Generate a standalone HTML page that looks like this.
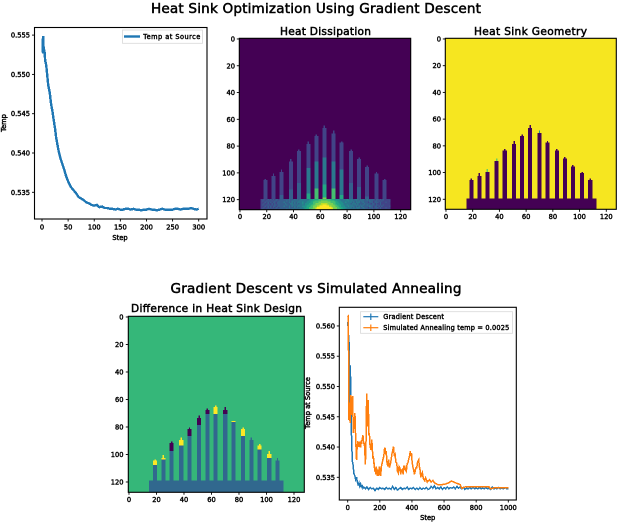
<!DOCTYPE html>
<html lang="en">
<head>
<meta charset="utf-8">
<title>Heat Sink Optimization Using Gradient Descent</title>
<style>
html,body{margin:0;padding:0;background:#fff;width:618px;height:522px;overflow:hidden}
svg{display:block;font-family:"DejaVu Sans","Liberation Sans",sans-serif}
text{fill:#000;stroke:#000;stroke-width:.42px}
.tick{font-size:6.7px}
.axl{font-size:6.7px}
.leg{font-size:6.6px}
.sub{font-size:10.6px;stroke-width:.5px}
.sup{font-size:13.6px;stroke-width:.5px}
.cells rect{shape-rendering:crispEdges}
</style>
</head>
<body>
<svg id="fig" xmlns="http://www.w3.org/2000/svg" width="618" height="522" viewBox="0 0 618 522">
  <rect width="618" height="522" fill="#fff"/>
  <text class="sup" x="316" y="13" text-anchor="middle" textLength="330">Heat Sink Optimization Using Gradient Descent</text>
  <text class="sup" x="316" y="293" text-anchor="middle" textLength="291">Gradient Descent vs Simulated Annealing</text>
  <text class="sub" x="325.5" y="35" text-anchor="middle" textLength="91">Heat Dissipation</text>
  <text class="sub" x="530.5" y="35" text-anchor="middle" textLength="113">Heat Sink Geometry</text>
  <text class="sub" x="216.5" y="312" text-anchor="middle" textLength="171">Difference in Heat Sink Design</text>
  <text class="axl" transform="translate(6,123) rotate(-90)" text-anchor="middle">Temp</text>
  <text class="axl" x="120" y="240" text-anchor="middle">Step</text>
  <text class="axl" transform="translate(310,403) rotate(-90)" text-anchor="middle">Temp at Source</text>
  <text class="axl" x="427.7" y="520" text-anchor="middle">Step</text>
  <g id="layers"></g>
</svg>
<script>
/* ---------- Temperature chart data (top left) ---------- */
const tempSteps = [0,1,2,3,4,5,6,8,10,12,15,17,20,22,25,27,30,32,35,37,40,42,45,47,50,55,60,65,70,75,80,85,90,95,100,105,110,115,120,125,130,135,140,145,150,155,160,165,170,175,180,185,190,195,200,205,210,215,220,225,230,235,240,245,250,255,260,265,270,275,280,285,290,295,300];
const tempValues = [.5528,.5528,.5549,.5535,.5531,.5528,.5518,.5512,.5499,.5486,.5476,.5464,.5453,.5444,.5431,.5420,.5409,.5402,.5394,.5390,.5384,.5380,.5373,.5369,.5364,.5357,.5353,.5349,.5344,.5342,.5340,.5337,.5336,.5334,.5333,.5334,.5331,.5332,.5330,.5330,.5329,.5329,.5328,.5329,.5328,.5328,.5329,.5329,.5328,.5329,.5328,.5328,.5327,.5328,.5328,.5329,.5328,.5328,.5327,.5328,.5329,.5328,.5328,.5328,.5328,.5329,.5329,.5328,.5329,.5329,.5329,.5330,.5329,.5328,.5329];
const tempYTicks = [0.535,0.540,0.545,0.550,0.555];
const tempXTicks = [0,50,100,150,200,250,300];

/* ---------- Comparison chart data (bottom right) ---------- */
const gdSteps = [0,2,4,7,9,10,12,14,17,19,22,25,30,34,38,45,50,55,60,65,70,75,80,85,90,95,100,110,120,130,140,150,160,170,180,190,200,210,220,230,240,250,260,270,280,290,300,310,320,330,340,350,360,370,380,390,400,410,420,430,440,450,460,470,480,490,500,510,520,530,540,550,560,570,580,590,600,610,620,630,640,650,660,670,680,690,700,710,720,730,740,750,760,770,780,790,800,810,820,830,840,850,860,870,880,890,900,910,920,930,940,950,960,970,980,990,1000];
const gdValues = [.5600,.5607,.5590,.5575,.5572,.5467,.5500,.5532,.5533,.5467,.5440,.5403,.5375,.5370,.5357,.5352,.5346,.5350,.5342,.5338,.5341,.5335,.5339,.5334,.5336,.5332,.5334,.5331,.5334,.5330,.5333,.5331,.5332,.5328,.5332,.5330,.5333,.5331,.5332,.5330,.5333,.5331,.5332,.5330,.5335,.5330,.5333,.5329,.5331,.5333,.5330,.5332,.5331,.5334,.5330,.5332,.5331,.5333,.5330,.5332,.5330,.5333,.5330,.5332,.5331,.5333,.5330,.5331,.5335,.5332,.5336,.5331,.5333,.5331,.5334,.5330,.5333,.5331,.5334,.5331,.5333,.5332,.5334,.5331,.5335,.5332,.5334,.5331,.5333,.5330,.5332,.5331,.5333,.5331,.5333,.5331,.5332,.5331,.5333,.5331,.5332,.5331,.5333,.5331,.5332,.5330,.5334,.5331,.5332,.5331,.5333,.5331,.5332,.5331,.5333,.5331,.5331];
const saSteps = [0,3,6,8,10,12,15,18,20,22,25,28,30,33,35,38,40,43,45,48,50,53,55,58,60,63,65,70,75,80,85,90,95,98,100,105,108,110,113,115,118,120,122,125,127,130,132,135,138,140,145,150,153,155,158,160,163,165,168,170,175,178,180,185,190,193,197,200,205,210,215,220,225,228,232,236,240,243,245,250,255,260,265,270,275,280,285,290,295,300,305,310,315,320,325,330,335,340,345,350,355,360,365,370,375,380,385,390,393,397,400,405,410,415,420,425,430,435,442,446,450,455,460,465,470,475,480,485,490,495,500,510,520,530,540,560,590,610,630,645,670,700,710,730,800,880,890,920,1000];
const saValues = [.5615,.5616,.5533,.5445,.5470,.5453,.5440,.5480,.5486,.5460,.5453,.5480,.5484,.5450,.5423,.5440,.5431,.5450,.5456,.5430,.5407,.5395,.5379,.5405,.5396,.5410,.5407,.5400,.5409,.5399,.5410,.5412,.5420,.5405,.5409,.5401,.5385,.5371,.5400,.5418,.5488,.5460,.5434,.5440,.5478,.5450,.5420,.5423,.5405,.5401,.5395,.5412,.5400,.5390,.5380,.5385,.5372,.5374,.5360,.5366,.5355,.5368,.5363,.5352,.5363,.5352,.5368,.5363,.5352,.5368,.5374,.5380,.5385,.5395,.5399,.5388,.5393,.5380,.5374,.5368,.5379,.5366,.5371,.5378,.5388,.5394,.5401,.5385,.5388,.5375,.5374,.5360,.5357,.5368,.5366,.5355,.5362,.5363,.5355,.5368,.5368,.5362,.5360,.5372,.5374,.5380,.5385,.5393,.5385,.5390,.5379,.5368,.5363,.5355,.5360,.5366,.5366,.5375,.5379,.5368,.5363,.5350,.5355,.5358,.5349,.5346,.5344,.5349,.5346,.5342,.5344,.5346,.5342,.5345,.5341,.5338,.5338,.5339,.5341,.5344,.5341,.5338,.5332,.5334,.5334,.5334,.5331,.5333,.5333];
const cmpYTicks = [0.535,0.540,0.545,0.550,0.555,0.560];
const cmpXTicks = [0,200,400,600,800,1000];

/* ---------- Heat sink image data (128 x 128 grid) ---------- */
const imgTicks = [0,20,40,60,80,100,120];
const finColumns = [19,25,31,38,44,51,57,63,70,76,83,89,95,102,108];
const finTopRows = [106,103,100,92,84,79,73,67,71,78,84,90,96,101,106];
const finTipRows = [105,101,98,90,83,77,72,65,69,77,83,89,95,100,105];
const geomTipColors = ['p','p','g','g','p','p','p','p','t','p','p','p','p','p','p'];
const baseStartCol = 16;
const baseEndCol = 112;
const baseTopRow = 120;

/* viridis colour for each heat digit */
const heatPalette = ['#440154','#414487','#355f8d','#2a788e','#21918c','#22a884','#44bf70','#7ad151','#bddf26','#fde725'];
/* each fin: [first row, heat digit] transitions */
const finHeatBands = [[],[],[[117,2]],[[113,2]],[[108,2]],[[97,3],[116,5]],[[92,3],[112,6]],[[89,3],[109,5],[119,7]],[[92,3],[112,6]],[[98,3],[117,5]],[[108,2]],[[111,2]],[[118,2]],[],[]];
/* base plate heat digits rows 120..127, columns 16..112 */
const heatBaseRows = [
 "11211212 12122122 22222322 23232333 333344455 5566666666655 544443333 34333323 33232322 32222212 21212111 11",
 "12112121 21221222 22232223 32323333 333444556 6666777776666 655444333 33433332 32323222 22322122 12121111 12",
 "11121212 12212222 23222323 23233334 334445566 6677777777766 665544433 43333232 33322322 21222122 21211121 11",
 "11211211 21212222 22322233 23232334 344455566 7777888887777 665554443 33332333 23222232 22212212 11211111 11",
 "12112121 21221222 22232223 32323333 344555667 7778899988777 766555443 34333323 33232322 32222212 21212111 11",
 "11121212 12212222 23222323 23233334 445556677 7889999999887 776655444 33433332 32323222 22322122 12121111 12",
 "11211212 12122122 22222322 23232333 445566677 8999999999998 777665544 43333232 33322322 21222122 21211121 11",
 "12112121 21221222 22232223 32323333 455566777 9999999999999 777666554 33332333 23222232 22212212 11211111 11"
];

/* difference panel fins */
const diffFinTop = [108,104,98,94,87,79,71,71,71,77,87,90,97,103,105];
const diffBandTop = [105,103,92,90,82,74,68,66,68,76,82,90,94,100,105];
const diffTipTop = [104,101,91,88,81,72,67,65,66,76,81,88,93,98,103];
const diffBandSign = ['y','y','p','y','p','p','p','y','p','y','y','b','y','y','b'];

const diffColors = {bg:'#35b779',fin:'#31688e',y:'#fde725',p:'#440154',b:'#31688e'};
const NS = 'http://www.w3.org/2000/svg';
const layers = document.getElementById('layers');

function group(parent, name, cls) {
  const g = document.createElementNS(NS, 'g');
  
  
  if (cls) g.setAttribute('class', cls);
  parent.appendChild(g);
  return g;
}
function line(parent, name, x1, y1, x2, y2, color, w) {
  const l = document.createElementNS(NS, 'line');
  
  
  l.setAttribute('x1', x1); l.setAttribute('y1', y1);
  l.setAttribute('x2', x2); l.setAttribute('y2', y2);
  l.setAttribute('stroke', color); l.setAttribute('stroke-width', w);
  parent.appendChild(l);
}
function label(parent, name, x, y, str, anchor, cls, len) {
  const t = document.createElementNS(NS, 'text');
  
  
  t.setAttribute('x', x); t.setAttribute('y', y);
  t.setAttribute('text-anchor', anchor);
  t.setAttribute('class', cls);
  if (len) t.setAttribute('textLength', len);
  t.textContent = str;
  parent.appendChild(t);
}
function box(parent, name, x, y, w, h, fill, stroke) {
  const r = document.createElementNS(NS, 'rect');
  
  
  r.setAttribute('x', x); r.setAttribute('y', y);
  r.setAttribute('width', w); r.setAttribute('height', h);
  r.setAttribute('fill', fill);
  if (stroke) { r.setAttribute('stroke', stroke); r.setAttribute('stroke-width', 0.8); }
  parent.appendChild(r);
}
function series(parent, name, xs, ys, sx, sy, color, w) {
  const p = document.createElementNS(NS, 'polyline');
  
  
  p.setAttribute('fill', 'none');
  p.setAttribute('stroke', color);
  p.setAttribute('stroke-width', w);
  p.setAttribute('stroke-linejoin', 'miter');
  p.setAttribute('shape-rendering', 'crispEdges');
  p.setAttribute('points', xs.map((s, i) => sx(s).toFixed(2) + ',' + sy(ys[i]).toFixed(2)).join(' '));
  parent.appendChild(p);
}
function frame(parent, name, l, t, r, b) {
  box(parent, name, l, t, r - l, b - t, 'none', '#000');
  parent.lastChild.setAttribute('stroke-width', 1.1);
}
function ticks(parent, prefix, l, b, xt, yt, sx, sy, fmtY, xBase, yRight) {
  xt.forEach(v => {
    line(parent, prefix + '-x-tick', sx(v), b, sx(v), b + 2.5, '#000', 0.9);
    label(parent, prefix + '-x-tick-label', sx(v), xBase, String(v), 'middle', 'tick');
  });
  yt.forEach(v => {
    line(parent, prefix + '-y-tick', l - 2.5, sy(v), l, sy(v), '#000', 0.9);
    label(parent, prefix + '-y-tick-label', yRight, sy(v) + 2.5, fmtY(v), 'end', 'tick');
  });
}

/* ---- Temperature chart ---- */
(function () {
  const g = group(layers, 'temperature-chart');
  const l = 34.5, t = 27.5, r = 207, b = 219;
  const sx = s => 42 + s * (156.7 / 300);
  const sy = v => 192.3 - (v - 0.535) * (39.3 / 0.005);
  series(g, 'temp-at-source-line', tempSteps, tempValues, sx, sy, '#1f77b4', 2.4);
  frame(g, 'temperature-axes-frame', l, t, r, b);
  ticks(g, 'temperature', l, b, tempXTicks, tempYTicks, sx, sy, v => v.toFixed(3), 229.5, 30);
  const lg = group(g, 'temperature-legend');
  box(lg, 'legend-box', 122.5, 30, 80, 13.3, '#fff', '#d8d8d8');
  line(lg, 'legend-line-temp', 124, 36.5, 140, 36.5, '#1f77b4', 2.4);
  label(lg, 'legend-label-temp', 143.3, 39, 'Temp at Source', 'start', 'leg', 57);
})();

/* ---- Image helpers ---- */
function imagePanel(name, l, t, size) {
  const g = group(layers, name);
  const cells = group(g, name + '-cells', 'cells');
  const u = size / 128;
  const px = c => l + (c + 0.5) * u;
  const py = c => t + (c + 0.5) * u;
  const rect = (col, row, cols, rows, color, cellName) =>
    box(cells, cellName, px(col - 0.5), py(row - 0.5), cols * u, rows * u, color);
  return {g, rect, px, py, finish(xBase, yRight) {
    frame(g, name + '-frame', l, t, l + size, t + size);
    ticks(g, name, l, t + size, imgTicks, imgTicks, px, py, v => String(v), xBase, yRight);
  }};
}

/* ---- Heat dissipation ---- */
(function () {
  const P = imagePanel('heat-dissipation-image', 239.3, 38.3, 171.4);
  P.rect(0, 0, 128, 128, heatPalette[0], 'heat-background');
  finColumns.forEach((c, i) => {
    P.rect(c - 1, finTopRows[i], 3, baseTopRow - finTopRows[i], heatPalette[1], 'heat-fin');
    P.rect(c, finTipRows[i], 1, finTopRows[i] - finTipRows[i], heatPalette[1], 'heat-fin-tip');
    finHeatBands[i].forEach(b => {
      P.rect(c - 1, b[0], 3, baseTopRow - b[0], heatPalette[b[1]], 'heat-fin-band');
    });
  });
  heatBaseRows.forEach((rowStr, r) => {
    const digits = rowStr.replace(/ /g, '');
    for (let k = 0; k <= baseEndCol - baseStartCol; k++) {
      const d = +(digits[k] || 1);
      P.rect(baseStartCol + k, baseTopRow + r, 1, 1, heatPalette[d], 'heat-cell');
    }
  });
  P.finish(219, 235);
})();

/* ---- Geometry ---- */
(function () {
  const P = imagePanel('heat-sink-geometry-image', 445.3, 38.3, 171);
  const tipColor = {p:'#440154', g:'#6ccd5a', t:'#1f9e89'};
  P.rect(0, 0, 128, 128, '#f6e620', 'geometry-background');
  finColumns.forEach((c, i) => {
    P.rect(c - 1, finTopRows[i], 3, baseTopRow - finTopRows[i], '#440154', 'geometry-fin');
    P.rect(c, finTipRows[i], 1, finTopRows[i] - finTipRows[i], tipColor[geomTipColors[i]], 'geometry-fin-tip');
  });
  P.rect(baseStartCol, baseTopRow, baseEndCol - baseStartCol + 1, 8, '#440154', 'geometry-base');
  P.finish(219, 441);
})();

/* ---- Difference ---- */
(function () {
  const P = imagePanel('difference-image', 128.3, 316.3, 176);
  P.rect(0, 0, 128, 128, diffColors.bg, 'difference-background');
  finColumns.forEach((c, i) => {
    const bandColor = diffColors[diffBandSign[i]];
    P.rect(c - 1, diffFinTop[i], 3, baseTopRow - diffFinTop[i], diffColors.fin, 'difference-fin');
    P.rect(c - 1, diffBandTop[i], 3, diffFinTop[i] - diffBandTop[i], bandColor, 'difference-fin-band');
    P.rect(c, diffTipTop[i], 1, diffBandTop[i] - diffTipTop[i], bandColor, 'difference-fin-tip');
  });
  P.rect(15, 119.5, baseEndCol - 15 + 1, 8.5, diffColors.fin, 'difference-base');
  P.finish(502, 123.5);
})();

/* ---- Comparison chart ---- */
(function () {
  const g = group(layers, 'comparison-chart');
  const l = 339.3, t = 307.3, r = 516.3, b = 500;
  const sx = s => 347.7 + s * (160.6 / 1000);
  const sy = v => 477.3 - (v - 0.535) * (30.27 / 0.005);
  series(g, 'gradient-descent-line', gdSteps, gdValues, sx, sy, '#1f77b4', 1.5);
  series(g, 'simulated-annealing-line', saSteps, saValues, sx, sy, '#ff7f0e', 1.5);
  frame(g, 'comparison-axes-frame', l, t, r, b);
  ticks(g, 'comparison', l, b, cmpXTicks, cmpYTicks, sx, sy, v => v.toFixed(3), 510, 335);
  const lg = group(g, 'comparison-legend');
  box(lg, 'legend-box', 360.5, 311.7, 152, 21.6, '#fff', '#d8d8d8');
  line(lg, 'legend-line-gradient', 363.3, 316.7, 378.3, 316.7, '#1f77b4', 1.2);
  line(lg, 'legend-marker-gradient', 370.8, 313.5, 370.8, 320, '#1f77b4', 1.2);
  label(lg, 'legend-label-gradient', 383.3, 319, 'Gradient Descent', 'start', 'leg', 60.7);
  line(lg, 'legend-line-annealing', 363.3, 327.7, 378.3, 327.7, '#ff7f0e', 1.2);
  line(lg, 'legend-marker-annealing', 370.8, 324.5, 370.8, 331, '#ff7f0e', 1.2);
  label(lg, 'legend-label-annealing', 383.3, 330, 'Simulated Annealing temp = 0.0025', 'start', 'leg', 126);
})();
</script>
</body>
</html>
